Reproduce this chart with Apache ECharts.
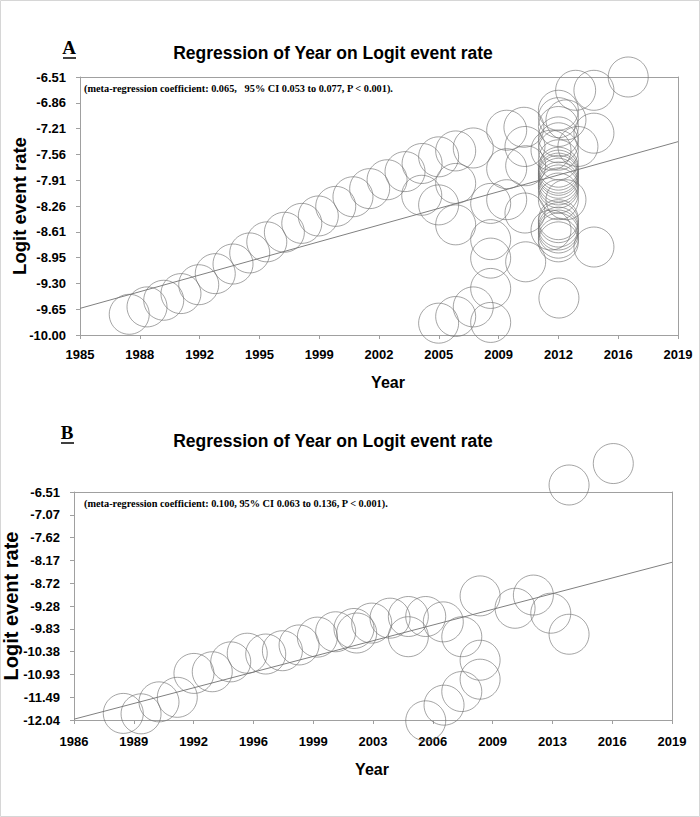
<!DOCTYPE html>
<html><head><meta charset="utf-8">
<script src="https://cdn.jsdelivr.net/npm/echarts@6/dist/echarts.min.js"></script>
<style>html,body{margin:0;padding:0;background:#fff}#c{width:700px;height:817px}</style>
</head><body><div id="c"></div>
<script>
// ---------- Panel A ----------
const aXTickLabels = ['1985','1988','1992','1995','1999','2002','2005','2009','2012','2016','2019'];
const aYTickLabels = ['-10.00','-9.65','-9.30','-8.95','-8.61','-8.26','-7.91','-7.56','-7.21','-6.86','-6.51'];
const aXRange = [1985, 2019];
const aYRange = [-10.00, -6.51];
const aYear = [
  1987.80,1988.81,1989.76,1990.74,1991.75,1992.69,1993.70,1994.65,1995.62,1996.62,1997.61,1998.55,
  1999.54,2000.52,2001.47,2002.46,2003.48,2004.45,2005.39,2006.36,2007.36,
  2004.43,2005.39,2006.36,2006.36,
  2005.39,2006.36,2007.36,2008.35,2008.35,2008.35,2008.35,2010.34,2008.35,
  2009.26,2010.24,2010.30,2009.26,2010.34,2009.26,2010.30,
  2012.2,2012.2,2012.2,2012.2,2012.2,2012.2,2012.2,2012.2,2012.2,2012.2,2012.2,2012.2,
  2012.2,2012.2,2012.2,2012.2,2012.2,2012.2,2012.2,2012.2,2012.2,2012.2,2012.2,2012.2,
  2011.78,2011.78,2012.63,2012.63,
  2013.18,2014.22,2016.17,2014.22,2013.31,2014.22,2012.23
];
const aLogit = [
  -9.72,-9.62,-9.53,-9.44,-9.32,-9.17,-9.04,-8.89,-8.74,-8.61,-8.49,-8.39,
  -8.26,-8.13,-8.02,-7.90,-7.79,-7.68,-7.59,-7.51,-7.47,
  -8.11,-8.24,-8.51,-7.95,
  -9.84,-9.75,-9.62,-9.83,-9.37,-8.96,-8.71,-9.01,-8.22,
  -7.23,-7.19,-7.45,-7.75,-7.71,-8.17,-8.35,
  -6.96,-7.06,-7.18,-7.32,-7.40,-7.50,-7.63,-7.73,-7.77,-7.81,-7.84,-7.88,
  -7.93,-7.97,-8.01,-8.08,-8.17,-8.44,-8.48,-8.54,-8.58,-8.62,-8.69,-8.74,
  -7.50,-8.58,-7.09,-8.17,
  -6.69,-6.69,-6.51,-7.27,-7.45,-8.81,-9.50
];
const aFitYear = [1985, 2019];
const aFitLogit = [-9.64, -7.385];

// ---------- Panel B ----------
const bXTickLabels = ['1986','1989','1992','1996','1999','2003','2006','2009','2013','2016','2019'];
const bYTickLabels = ['-12.04','-11.49','-10.93','-10.38','-9.83','-9.28','-8.72','-8.17','-7.62','-7.07','-6.51'];
const bXRange = [1986, 2019];
const bYRange = [-12.04, -6.51];
const bYear = [
  1988.72,1989.70,1990.69,1991.70,1992.62,1993.63,1994.65,1995.56,1996.58,1997.50,1998.42,1999.43,
  2000.44,2001.45,2001.60,2002.43,2003.44,2004.45,2004.45,2005.41,2006.38,2007.40,
  2008.41,2008.41,2008.41,2007.40,2006.42,2005.41,
  2010.34,2011.35,2012.31,2013.32,2013.32,2015.76
];
const bLogit = [
  -11.88,-11.89,-11.60,-11.49,-10.91,-10.87,-10.63,-10.42,-10.44,-10.36,-10.22,-10.03,
  -9.90,-9.82,-9.93,-9.69,-9.57,-9.53,-10.02,-9.53,-9.66,-10.02,
  -9.03,-10.59,-11.05,-11.35,-11.68,-12.06,
  -9.33,-9.01,-9.45,-9.96,-6.34,-5.82
];
const bFitYear = [1986, 2019];
const bFitLogit = [-12.02, -8.215];

// ---------- texts ----------
const titleText = 'Regression of Year on Logit event rate';
const aNote = '(meta-regression coefficient: 0.065,   95% CI 0.053 to 0.077, P < 0.001).';
const bNote = '(meta-regression coefficient: 0.100, 95% CI 0.063 to 0.136, P < 0.001).';

const AXIS_GRAY = '#a0a0a0';
const CIRCLE = '#6f6f6f';
const SANS = '"Liberation Sans", Arial, sans-serif';
const SERIF = '"Liberation Serif", "Times New Roman", serif';

function catX(grid, labels, margin) {
  return {type:'category', gridIndex:grid, data:labels, boundaryGap:false, position:'bottom',
    axisLine:{show:true, onZero:false, lineStyle:{color:AXIS_GRAY, width:1}},
    axisTick:{show:true, length:4, lineStyle:{color:AXIS_GRAY}},
    axisLabel:{interval:0, color:'#000', fontWeight:'bold', fontSize:13, fontFamily:SANS, margin:margin},
    splitLine:{show:false}};
}
function catY(grid, labels) {
  return {type:'category', gridIndex:grid, data:labels, boundaryGap:false, position:'left',
    axisLine:{show:true, onZero:false, lineStyle:{color:AXIS_GRAY, width:1}},
    axisTick:{show:true, length:4, lineStyle:{color:AXIS_GRAY}},
    axisLabel:{interval:0, color:'#000', fontWeight:'bold', fontSize:13, fontFamily:SANS, margin:14},
    splitLine:{show:false}};
}
function valAxis(grid, range, pos) {
  return {type:'value', gridIndex:grid, min:range[0], max:range[1], position:pos,
    axisLine:{show:true, onZero:false, lineStyle:{color:AXIS_GRAY, width:1}},
    axisTick:{show:false}, axisLabel:{show:false}, splitLine:{show:false}};
}
function pairs(xs, ys) { return xs.map((x, i) => [x, ys[i]]); }
function scatter(xi, yi, xs, ys) {
  return {type:'scatter', xAxisIndex:xi, yAxisIndex:yi, data:pairs(xs, ys), symbol:'circle',
    symbolSize:40, clip:false, silent:true,
    itemStyle:{color:'rgba(0,0,0,0)', borderColor:CIRCLE, borderWidth:0.8}};
}
function fit(xi, yi, xs, ys) {
  return {type:'line', xAxisIndex:xi, yAxisIndex:yi, data:pairs(xs, ys), symbol:'none', silent:true,
    lineStyle:{color:'#808080', width:1}, z:1};
}
function txt(x, y, s, font, align, rot) {
  return {type:'text', x:x, y:y, rotation:rot||0, silent:true,
    style:{text:s, font:font, fill:'#000', align:align||'center', verticalAlign:'middle'}};
}

const chart = echarts.init(document.getElementById('c'), null, {renderer:'svg'});
chart.setOption({
  animation:false,
  backgroundColor:'#fff',
  grid:[
    {left:80, top:77, width:598, height:258},
    {left:74, top:492, width:598, height:228}
  ],
  xAxis:[catX(0, aXTickLabels, 13), valAxis(0, aXRange, 'top'), catX(1, bXTickLabels, 15), valAxis(1, bXRange, 'top')],
  yAxis:[catY(0, aYTickLabels), valAxis(0, aYRange, 'right'), catY(1, bYTickLabels), valAxis(1, bYRange, 'right')],
  series:[
    fit(1, 1, aFitYear, aFitLogit),
    scatter(1, 1, aYear, aLogit),
    fit(3, 3, bFitYear, bFitLogit),
    scatter(3, 3, bYear, bLogit)
  ],
  graphic:[
    {type:'rect', silent:true, shape:{x:0.5, y:0.5, width:699, height:816}, style:{fill:'none', stroke:'#d6d6d6', lineWidth:1}},
    txt(69, 47, 'A', 'bold 19px ' + SERIF),
    {type:'line', silent:true, shape:{x1:63, y1:58, x2:76, y2:58}, style:{stroke:'#000', lineWidth:1.5}},
    txt(333, 53, titleText, 'bold 17.5px ' + SANS),
    txt(84, 88, aNote, 'bold 10.3px ' + SERIF, 'left'),
    txt(19, 206, 'Logit event rate', 'bold 18.5px ' + SANS, 'center', Math.PI/2),
    txt(388, 382, 'Year', 'bold 16px ' + SANS),
    txt(67, 432, 'B', 'bold 19px ' + SERIF),
    {type:'line', silent:true, shape:{x1:61, y1:443, x2:74, y2:443}, style:{stroke:'#000', lineWidth:1.5}},
    txt(333, 441, titleText, 'bold 17.5px ' + SANS),
    txt(84, 503, bNote, 'bold 10.3px ' + SERIF, 'left'),
    txt(11, 606, 'Logit event rate', 'bold 20px ' + SANS, 'center', Math.PI/2),
    txt(372, 769, 'Year', 'bold 16px ' + SANS)
  ]
});
</script></body></html>
